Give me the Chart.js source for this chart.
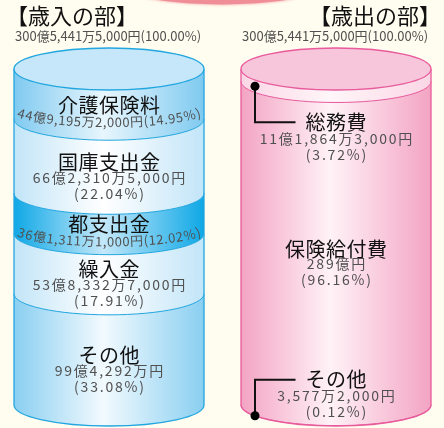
<!DOCTYPE html>
<html>
<head>
<meta charset="utf-8">
<script src="https://cdn.jsdelivr.net/npm/chart.js@4.4.1/dist/chart.umd.min.js"></script>
<style>
  html, body { margin: 0; padding: 0; background: #fffdef; }
  canvas { display: block; }
</style>
</head>
<body>
<canvas id="chart" width="444" height="428"></canvas>
<script>
// 歳入・歳出 cylinder chart

const columns = ['歳入の部', '歳出の部'];
const totalAmount = '300億5,441万5,000円';
const totalShare = 100.00;

const incomeLabels = ['介護保険料', '国庫支出金', '都支出金', '繰入金', 'その他'];
const incomeAmounts = ['44億9,195万2,000円', '66億2,310万5,000円', '36億1,311万1,000円', '53億8,332万7,000円', '99億4,292万円'];
const incomeShares = [14.95, 22.04, 12.02, 17.91, 33.08];

const outgoLabels = ['総務費', '保険給付費', 'その他'];
const outgoAmounts = ['11億1,864万3,000円', '289億円', '3,577万2,000円'];
const outgoShares = [3.72, 96.16, 0.12];

const FONT = '"Noto Sans CJK JP", "Noto Sans CJK SC", sans-serif';
const RY = 21; // ellipse half height of the cylinder

const looks = [
    {
        edge: ['#7fcaf0', '#c2e5f8', '#0fa8e6', '#c2e5f8', '#8acff1'],
        mid: ['#e8f6fd', '#ffffff', '#c4e8f9', '#ffffff', '#f2fafe'],
        line: '#22a6e0',
        lid: '#c6e7f9',
        label: ['curve', 'stack', 'curve', 'stack', 'stack']
    },
    {
        edge: ['#fbd6e5', '#f3a4c3', '#f3a4c3'],
        mid: ['#fff6f9', '#fff2f7', '#fff2f7'],
        line: '#e85a9c',
        lid: '#f8c6da',
        label: ['calloutTop', 'stack', 'calloutBottom']
    }
];

// spaced (and optionally bent) text, one char at a time
function spacedText(ctx, text, cx, cy, gap, bend) {
    const chars = Array.from(text);
    const widths = chars.map(ch => ctx.measureText(ch).width);
    const total = widths.reduce((a, b) => a + b, 0) + gap * (chars.length - 1);
    const R = 100;
    let x = cx - total / 2;
    chars.forEach((ch, i) => {
        const px = x + widths[i] / 2;
        const dx = px - cx;
        let y = cy, ang = 0;
        if (bend) {
            const u = dx / R, r = Math.sqrt(1 - u * u);
            y = cy - bend * (1 - r);
            ang = Math.atan(-bend * u / (R * r));
        }
        ctx.save();
        ctx.translate(px, y);
        ctx.rotate(ang);
        ctx.fillText(ch, 0, 0);
        ctx.restore();
        x += widths[i] + gap;
    });
    return { left: cx - total / 2, right: cx + total / 2 };
}

function segmentsOf(chart, col) {
    const segs = [];
    chart.data.datasets.forEach((ds, i) => {
        if (ds.data[col] == null) return;
        const el = chart.getDatasetMeta(i).data[col];
        segs.push({
            ds: ds,
            cx: el.x,
            rx: el.width / 2,
            top: Math.min(el.y, el.base),
            bottom: Math.max(el.y, el.base)
        });
    });
    return segs;
}

function drawCylinder(ctx, segs, look) {
    const first = segs[0], last = segs[segs.length - 1];
    const cx = first.cx, rx = first.rx, x0 = cx - rx, x1 = cx + rx;

    segs.forEach((s, k) => {
        const g = ctx.createLinearGradient(x0, 0, x1, 0);
        g.addColorStop(0, look.edge[k]);
        g.addColorStop(0.47, look.mid[k]);
        g.addColorStop(1, look.edge[k]);
        ctx.beginPath();
        ctx.moveTo(x0, s.top);
        ctx.ellipse(cx, s.top, rx, RY, 0, Math.PI, 0, true);
        ctx.lineTo(x1, s.bottom);
        ctx.ellipse(cx, s.bottom, rx, RY, 0, 0, Math.PI, false);
        ctx.closePath();
        ctx.fillStyle = g;
        ctx.fill();
    });

    ctx.strokeStyle = look.line;
    ctx.lineWidth = 1;
    segs.slice(0, -1).forEach(s => {
        ctx.beginPath();
        ctx.ellipse(cx, s.bottom, rx, RY, 0, 0, Math.PI, false);
        ctx.stroke();
    });

    ctx.lineWidth = 1.3;
    ctx.beginPath();
    ctx.moveTo(x0, first.top);
    ctx.lineTo(x0, last.bottom);
    ctx.ellipse(cx, last.bottom, rx, RY, 0, Math.PI, 0, true);
    ctx.lineTo(x1, first.top);
    ctx.stroke();

    ctx.beginPath();
    ctx.ellipse(cx, first.top, rx, RY, 0, 0, Math.PI * 2);
    ctx.fillStyle = look.lid;
    ctx.fill();
    ctx.stroke();
}

function titleText(ctx, text, cx, cy) {
    ctx.font = '20px ' + FONT;
    ctx.fillStyle = '#111';
    return spacedText(ctx, text, cx, cy, 0.5, 0);
}

function smallText(ctx, text, cx, cy) {
    ctx.font = '14px ' + FONT;
    ctx.fillStyle = '#505050';
    spacedText(ctx, text, cx, cy, 1.8, 0);
}

function drawLabels(ctx, segs, look) {
    ctx.textAlign = 'center';
    ctx.textBaseline = 'middle';
    segs.forEach((s, k) => {
        const ds = s.ds;
        const pct = '(' + ds.share.toFixed(2) + '%)';
        const mid = (s.top + s.bottom) / 2 + RY;
        const kind = look.label[k];
        if (kind === 'stack') {
            titleText(ctx, ds.label, s.cx, mid - 15);
            smallText(ctx, ds.amount, s.cx, mid);
            smallText(ctx, pct, s.cx, mid + 16);
        } else if (kind === 'curve') {
            titleText(ctx, ds.label, s.cx, mid - 10);
            ctx.font = '13px ' + FONT;
            ctx.fillStyle = '#505050';
            spacedText(ctx, ds.amount + pct, s.cx, mid + 7, 0.5, 17);
        } else {
            // callout with a leader line from a dot on the front rim
            const dotX = s.cx - s.rx + 14;
            const u = (dotX - s.cx) / s.rx;
            const dotY = (s.top + s.bottom) / 2 + RY * Math.sqrt(1 - u * u);
            const lineY = kind === 'calloutTop' ? dotY + 36 : dotY - 36;
            const box = titleText(ctx, ds.label, s.cx, lineY);
            smallText(ctx, ds.amount, s.cx, lineY + 16);
            smallText(ctx, pct, s.cx, lineY + 32);
            ctx.strokeStyle = '#111';
            ctx.lineWidth = 2;
            ctx.beginPath();
            ctx.moveTo(dotX, dotY);
            ctx.lineTo(dotX, lineY);
            ctx.lineTo(box.left - 10, lineY);
            ctx.stroke();
            ctx.fillStyle = '#000';
            ctx.beginPath();
            ctx.arc(dotX, dotY, 4.5, 0, Math.PI * 2);
            ctx.fill();
        }
    });
}

function drawHeader(ctx, segs, col) {
    const s = segs[0];
    const x0 = s.cx - s.rx, x1 = s.cx + s.rx;
    ctx.textBaseline = 'middle';
    ctx.font = '22px ' + FONT;
    ctx.fillStyle = '#111';
    if (col === 0) {
        ctx.textAlign = 'left';
        ctx.fillText('【' + columns[col] + '】', x0 - 8, 16);
    } else {
        ctx.textAlign = 'right';
        ctx.fillText('【' + columns[col] + '】', x1 + 10, 16);
    }
    ctx.textAlign = 'left';
    ctx.font = '13px ' + FONT;
    ctx.fillStyle = '#505050';
    ctx.fillText(totalAmount + '(' + totalShare.toFixed(2) + '%)', x0 + 1, 36);
}

const cylinderPlugin = {
    id: 'cylinders',
    beforeDraw(chart) {
        const ctx = chart.ctx;
        ctx.save();
        ctx.fillStyle = '#fffdef';
        ctx.fillRect(0, 0, chart.width, chart.height);
        // pink shape peeking in at the top
        ctx.shadowColor = 'rgba(238,120,135,0.8)';
        ctx.shadowBlur = 3;
        ctx.fillStyle = '#f08e98';
        ctx.beginPath();
        ctx.ellipse(chart.width / 2, -10.5, 90, 15, 0, 0, Math.PI * 2);
        ctx.fill();
        ctx.restore();
    },
    afterDatasetsDraw(chart) {
        const ctx = chart.ctx;
        ctx.save();
        [0, 1].forEach(col => {
            const segs = segmentsOf(chart, col);
            drawCylinder(ctx, segs, looks[col]);
            drawLabels(ctx, segs, looks[col]);
            drawHeader(ctx, segs, col);
        });
        ctx.restore();
    }
};

function makeDatasets() {
    const income = incomeLabels.map((name, i) => ({
        label: name,
        amount: incomeAmounts[i],
        share: incomeShares[i],
        data: [incomeShares[i], null]
    }));
    const outgo = outgoLabels.map((name, i) => ({
        label: name,
        amount: outgoAmounts[i],
        share: outgoShares[i],
        data: [null, outgoShares[i]]
    }));
    return income.concat(outgo).map(ds => Object.assign(ds, {
        backgroundColor: 'rgba(0,0,0,0)',
        borderWidth: 0,
        barThickness: 190,
        clip: false
    }));
}

document.addEventListener('DOMContentLoaded', function() {
    const ctx = document.getElementById('chart').getContext('2d');
    new Chart(ctx, {
        type: 'bar',
        data: {
            labels: columns,
            datasets: makeDatasets()
        },
        options: {
            responsive: false,
            animation: false,
            events: [],
            layout: { padding: { left: 109, right: 108, top: 69, bottom: 23 } },
            scales: {
                x: { stacked: true, offset: false, display: false },
                y: { stacked: true, min: 0, max: 100, reverse: true, display: false }
            },
            plugins: {
                legend: { display: false },
                tooltip: { enabled: false }
            }
        },
        plugins: [cylinderPlugin]
    });
});
</script>
</body>
</html>
